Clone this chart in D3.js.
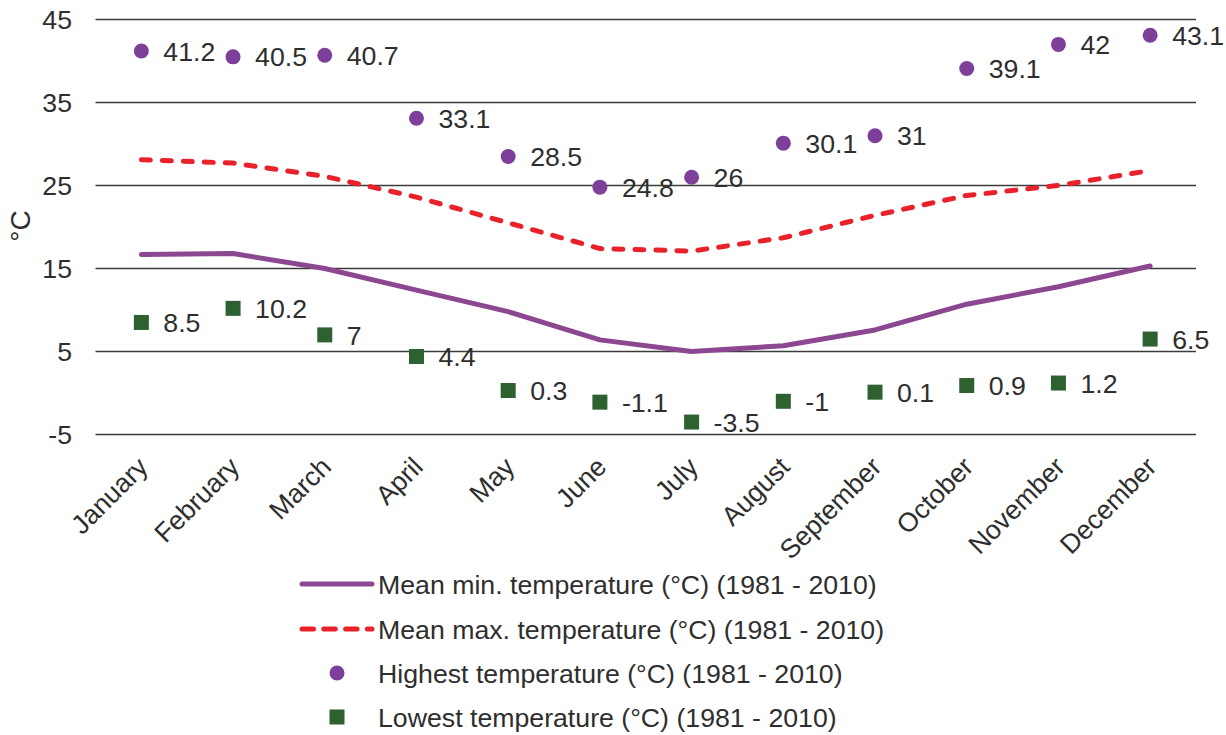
<!DOCTYPE html>
<html>
<head>
<meta charset="utf-8">
<script src="https://cdn.jsdelivr.net/npm/d3@7"></script>
<style>
  html, body { margin: 0; padding: 0; background: #fff; }
  svg { display: block; font-family: "Liberation Sans", Arial, sans-serif; }
</style>
</head>
<body>
<svg id="chart" width="1226" height="735"></svg>
<script>
// Monthly climate normals, 1981 - 2010
const months = ["January", "February", "March", "April", "May", "June",
  "July", "August", "September", "October", "November", "December"];
const meanMin = [16.7, 16.8, 15.0, 12.4, 9.8, 6.4, 5.0, 5.7, 7.6, 10.7, 12.8, 15.3];
const meanMax = [28.1, 27.7, 26.1, 23.6, 20.5, 17.4, 17.1, 18.7, 21.4, 23.8, 25.0, 26.8];
const highest = [41.2, 40.5, 40.7, 33.1, 28.5, 24.8, 26, 30.1, 31, 39.1, 42, 43.1];
const lowest = [8.5, 10.2, 7, 4.4, 0.3, -1.1, -3.5, -1, 0.1, 0.9, 1.2, 6.5];
const yTicks = [-5, 5, 15, 25, 35, 45];
const legendLabels = [
  "Mean min. temperature (°C) (1981 - 2010)",
  "Mean max. temperature (°C) (1981 - 2010)",
  "Highest temperature (°C) (1981 - 2010)",
  "Lowest temperature (°C) (1981 - 2010)"
];

const colors = {
  min: "#8b4790",
  max: "#e8212b",
  high: "#7d3f99",
  low: "#2d6130",
  grid: "#3c3c3c",
  text: "#2e2e2e"
};
const fontSize = 26.7;

const svg = d3.select("#chart");
const plotLeft = 95.5, plotRight = 1196, plotTop = 19.5, plotBottom = 434.5;

const x = d3.scaleBand().domain(months).range([plotLeft, plotRight]);
const y = d3.scaleLinear().domain([-5, 45]).range([plotBottom, plotTop]);
const cx = m => x(m) + x.bandwidth() / 2;

// horizontal gridlines
svg.append("g")
  .selectAll("line")
  .data(yTicks)
  .join("line")
  .attr("x1", plotLeft).attr("x2", plotRight)
  .attr("y1", d => y(d)).attr("y2", d => y(d))
  .attr("stroke", colors.grid)
  .attr("stroke-width", 1.3);

// y axis tick labels (plain hyphen for negatives)
const yAxis = d3.axisLeft(y).tickValues(yTicks).tickSize(0).tickPadding(0)
  .tickFormat(d => String(d));
const gy = svg.append("g").attr("transform", `translate(72,0)`).call(yAxis);
gy.select(".domain").remove();
gy.selectAll("text")
  .attr("font-size", fontSize)
  .attr("fill", colors.text)
  .attr("font-family", "Liberation Sans, Arial, sans-serif");

// y axis title
svg.append("text")
  .attr("transform", "translate(30,226) rotate(-90)")
  .attr("text-anchor", "middle")
  .attr("font-size", 28)
  .attr("fill", colors.text)
  .text("°C");

// x axis labels, rotated
const xAxis = d3.axisBottom(x).tickSize(0).tickPadding(0);
const gx = svg.append("g").attr("transform", `translate(0,${plotBottom})`).call(xAxis);
gx.select(".domain").remove();
gx.selectAll(".tick text")
  .attr("font-size", fontSize)
  .attr("fill", colors.text)
  .attr("font-family", "Liberation Sans, Arial, sans-serif")
  .attr("text-anchor", "end")
  .attr("dy", null)
  .attr("y", 0)
  .attr("transform", "translate(8,34) rotate(-45)");

// mean lines
const lineGen = d3.line()
  .x((d, i) => cx(months[i]))
  .y(d => y(d));

svg.append("path")
  .datum(meanMin)
  .attr("d", lineGen)
  .attr("fill", "none")
  .attr("stroke", colors.min)
  .attr("stroke-width", 5)
  .attr("stroke-linecap", "round")
  .attr("stroke-linejoin", "round");

svg.append("path")
  .datum(meanMax)
  .attr("d", lineGen)
  .attr("fill", "none")
  .attr("stroke", colors.max)
  .attr("stroke-width", 5)
  .attr("stroke-linecap", "round")
  .attr("stroke-linejoin", "round")
  .attr("stroke-dasharray", "9,12");

// highest temperature points
svg.append("g")
  .selectAll("circle")
  .data(highest)
  .join("circle")
  .attr("cx", (d, i) => cx(months[i]))
  .attr("cy", d => y(d))
  .attr("r", 7.5)
  .attr("fill", colors.high);

// lowest temperature points
const sq = 15;
svg.append("g")
  .selectAll("rect")
  .data(lowest)
  .join("rect")
  .attr("x", (d, i) => cx(months[i]) - sq / 2)
  .attr("y", d => y(d) - sq / 2)
  .attr("width", sq).attr("height", sq)
  .attr("fill", colors.low);

// value labels
function valueLabels(values) {
  svg.append("g")
    .selectAll("text")
    .data(values)
    .join("text")
    .attr("x", (d, i) => cx(months[i]) + 22)
    .attr("y", d => y(d))
    .attr("dy", "0.36em")
    .attr("font-size", fontSize)
    .attr("fill", colors.text)
    .text(d => String(d));
}
valueLabels(highest);
valueLabels(lowest);

// legend
const legendRows = [584, 629, 673, 717];
const lg = svg.append("g");
const sampleX1 = 302, sampleX2 = 372, textX = 378;

lg.append("line")
  .attr("x1", sampleX1).attr("x2", sampleX2)
  .attr("y1", legendRows[0]).attr("y2", legendRows[0])
  .attr("stroke", colors.min).attr("stroke-width", 5)
  .attr("stroke-linecap", "round");

lg.append("line")
  .attr("x1", sampleX1).attr("x2", sampleX2)
  .attr("y1", legendRows[1]).attr("y2", legendRows[1])
  .attr("stroke", colors.max).attr("stroke-width", 5)
  .attr("stroke-linecap", "round")
  .attr("stroke-dasharray", "11.5,10.3");

lg.append("circle")
  .attr("cx", (sampleX1 + sampleX2) / 2).attr("cy", legendRows[2])
  .attr("r", 7.5).attr("fill", colors.high);

lg.append("rect")
  .attr("x", (sampleX1 + sampleX2) / 2 - sq / 2).attr("y", legendRows[3] - sq / 2)
  .attr("width", sq).attr("height", sq)
  .attr("fill", colors.low);

lg.selectAll("text")
  .data(legendLabels)
  .join("text")
  .attr("x", textX)
  .attr("y", (d, i) => legendRows[i])
  .attr("dy", "0.36em")
  .attr("font-size", fontSize)
  .attr("fill", colors.text)
  .text(d => d);
</script>
</body>
</html>
